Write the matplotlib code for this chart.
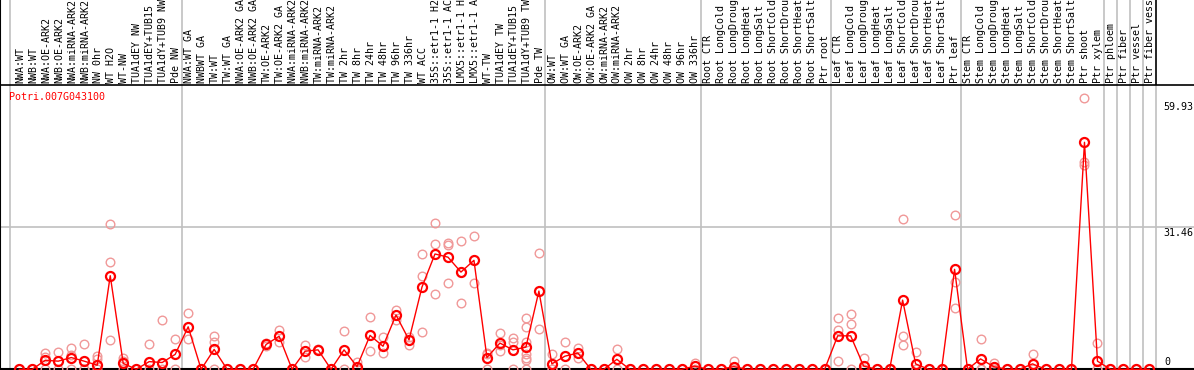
import matplotlib
matplotlib.use("Agg")
import matplotlib.pyplot as plt
import numpy as np

title = "Potri.007G043100"

labels = [
    "NWA:WT", "NWB:WT", "NWA:OE-ARK2", "NWB:OE-ARK2", "NWA:miRNA-ARK2", "NWB:miRNA-ARK2",
    "NW 0hr", "WT H2O", "WT-NW", "TUA1dEY NW", "TUA1dEY+TUB15 NW", "TUA1dY+TUB9 NW", "Pde NW",
    "NWA:WT GA", "NWBWT GA", "TW:WT", "TW:WT GA", "NWA:OE-ARK2 GA", "NWB:OE-ARK2 GA",
    "TW:OE-ARK2", "TW:OE-ARK2 GA", "NWA:miRNA-ARK2 GA", "NWB:miRNA-ARK2 GA", "TW:miRNA-ARK2",
    "TW:miRNA-ARK2 GA", "TW 2hr", "TW 8hr", "TW 24hr", "TW 48hr", "TW 96hr", "TW 336hr", "WT ACC",
    "35S::etr1-1 H2O", "35S::etr1-1 ACC", "LMX5::etr1-1 H2O", "LMX5::etr1-1 ACC", "WT-TW",
    "TUA1dEY TW", "TUA1dEY+TUB15 TW", "TUA1dY+TUB9 TW", "Pde TW",
    "OW:WT", "OW:WT GA", "OW:OE-ARK2", "OW:OE-ARK2 GA", "OW:miRNA-ARK2", "OW:miRNA-ARK2 GA",
    "OW 2hr", "OW 8hr", "OW 24hr", "OW 48hr", "OW 96hr", "OW 336hr",
    "Root CTR", "Root LongCold", "Root LongDrought", "Root LongHeat", "Root LongSalt",
    "Root ShortCold", "Root ShortDrought", "Root ShortHeat", "Root ShortSalt", "Ptr root",
    "Leaf CTR", "Leaf LongCold", "Leaf LongDrought", "Leaf LongHeat", "Leaf LongSalt",
    "Leaf ShortCold", "Leaf ShortDrought", "Leaf ShortHeat", "Leaf ShortSalt", "Ptr leaf",
    "Stem CTR", "Stem LongCold", "Stem LongDrought", "Stem LongHeat", "Stem LongSalt",
    "Stem ShortCold", "Stem ShortDrought", "Stem ShortHeat", "Stem ShortSalt", "Ptr shoot",
    "Ptr xylem", "Ptr phloem", "Ptr fiber", "Ptr vessel", "Ptr fiber vessel",
]

means = [
    0, 0, 2.0, 1.8, 2.6, 1.8, 0.9, 20.7, 1.3, 0, 1.7, 1.5, 3.3,
    9.4, 0, 4.4, 0, 0, 0, 5.5, 7.3, 0, 4.0, 4.3, 0, 4.3, 0.6, 7.5, 5.1, 12.0, 6.5,
    18.2, 25.5, 24.8, 21.5, 24.1, 2.6, 5.8, 4.3, 4.9, 17.3,
    1.2, 2.9, 3.6, 0, 0, 2.2, 0, 0, 0, 0, 0, 0.7,
    0, 0, 0.6, 0, 0, 0, 0, 0, 0, 0,
    7.4, 7.4, 0.7, 0, 0, 15.3, 1.2, 0, 0, 22.1,
    0, 2.3, 0.6, 0, 0, 1.2, 0, 0, 0, 50.2,
    1.8, 0, 0, 0, 0,
]

replicates = [
    [0, 0], [0, 0], [3.5, 2.8, 0], [3.8, 0], [4.7, 3.2, 0], [5.5, 0, 0], [3.0, 2.2, 0],
    [32.1, 23.7, 6.4], [2.4, 1.9, 0], [0, 0], [5.5, 0], [10.8, 0], [6.6, 0],
    [12.4, 6.8], [0, 0], [7.3, 6.0, 0], [0, 0], [0, 0], [0, 0], [5.8, 5.2], [8.7, 6.0],
    [0, 0], [5.3, 2.7], [4.4, 4.2], [0, 0], [8.5, 0], [1.7, 0], [11.5, 4.0], [7.1, 3.5],
    [13.1, 10.9], [7.1, 5.4], [25.5, 20.6, 8.3], [32.3, 27.7, 16.6], [27.9, 27.5, 19.0],
    [28.3, 21.5, 14.6], [29.4, 19.0], [3.5, 3.3, 0], [8.0, 5.4, 4.0], [7.0, 6.0, 0],
    [11.3, 9.3, 6.0, 3.3, 2.5, 2.0, 0], [25.7, 8.9],
    [3.3, 0, 0], [6.0, 0], [4.6, 2.4], [0, 0], [0, 0], [4.5, 0], [0, 0], [0, 0], [0, 0],
    [0, 0], [0, 0], [1.5, 0],
    [0, 0], [0, 0], [1.8, 0], [0, 0], [0, 0], [0, 0], [0, 0], [0, 0], [0, 0], [0, 0],
    [11.3, 8.8, 1.8], [12.2, 10.0, 0], [2.6, 0], [0, 0], [0, 0], [33.2, 7.3, 5.3],
    [3.8, 0, 0], [0, 0], [0, 0], [34.1, 19.2, 13.5],
    [0, 0], [6.7, 0, 0], [1.5, 0], [0, 0], [0, 0], [3.3, 0], [0, 0], [0, 0], [0, 0],
    [59.93, 45.9, 45.2],
    [5.8, 0, 0], [0, 0], [0, 0], [0, 0], [0, 0],
]

separators = [-0.72, 12.5, 40.5, 52.5, 62.5, 72.5, 83.5, 84.5, 85.5, 86.5]
end_line = 87.5
ytick_vals = [59.93, 31.46, 0]

W, H = 1194, 370
HEAD = 85
fig = plt.figure(figsize=(W / 100, H / 100), dpi=100)

x0, step = 19.3, 12.99
xlim = (-x0 / step, (W - x0) / step)
zero_px = 369.3
scale = 4.522
ylim = (-(H - zero_px) / scale, (zero_px - HEAD) / scale)

ax = fig.add_axes([0, 0, 1, (H - HEAD) / H])
hx = fig.add_axes([0, (H - HEAD) / H, 1, HEAD / H], sharex=ax)
ax.set_xlim(*xlim)
ax.set_ylim(*ylim)
hx.set_ylim(0, HEAD)

mono = "DejaVu Sans Mono"
fs = 7.2
grey = "#c0c0c0"

for a in (ax, hx):
    a.set_xticks([])
    a.set_yticks([])
    for s in ("top", "right", "bottom"):
        a.spines[s].set_visible(False)
    a.spines["left"].set_color("black")
    a.spines["left"].set_linewidth(1.5)
    a.patch.set_alpha(0)

hx.spines["bottom"].set_visible(True)
hx.spines["bottom"].set_color("black")
hx.spines["bottom"].set_linewidth(1.2)

for sx in separators:
    ax.axvline(sx, color=grey, lw=1.2, zorder=0)
    hx.axvline(sx, color=grey, lw=1.2, zorder=0)
ax.axvline(end_line, color=grey, lw=1.2, zorder=0)
hx.axvline(end_line, color="black", lw=1.2, zorder=0)

ax.axhline(31.46, color=grey, lw=1.2, zorder=0)
ax.axhline(0, color="black", lw=1.5, zorder=1)

xs = np.arange(len(labels))
for i, reps in enumerate(replicates):
    ax.plot([i] * len(reps), reps, linestyle="none", marker="o", markersize=6.2,
            markerfacecolor="none", markeredgecolor="#f09898", markeredgewidth=1.0,
            zorder=2, clip_on=False)
ax.plot(xs, means, color="red", lw=1.0, zorder=3, clip_on=False)
ax.plot(xs, means, linestyle="none", marker="o", markersize=6.5, markerfacecolor="none",
        markeredgecolor="red", markeredgewidth=1.6, zorder=4, clip_on=False)

for i, lab in enumerate(labels):
    hx.text(i + 0.05, 2, lab, rotation=90, ha="center", va="bottom",
            fontfamily=mono, fontsize=fs, color="black", clip_on=True)

ax.text((9.3 - x0) / step, (zero_px - 97) / scale, title, ha="left", va="center",
        fontfamily=mono, fontsize=fs, color="red")

tx = (1163 - x0) / step
ax.text(tx, (zero_px - 107) / scale, "59.93", ha="left", va="center",
        fontfamily=mono, fontsize=fs, color="black")
ax.text(tx, (zero_px - 233) / scale, "31.46", ha="left", va="center",
        fontfamily=mono, fontsize=fs, color="black")
ax.text((1167 - x0) / step, (zero_px - 362) / scale, "0", ha="center", va="center",
        fontfamily=mono, fontsize=fs, color="black")

fig.savefig("out.png", dpi=100, facecolor="white")
